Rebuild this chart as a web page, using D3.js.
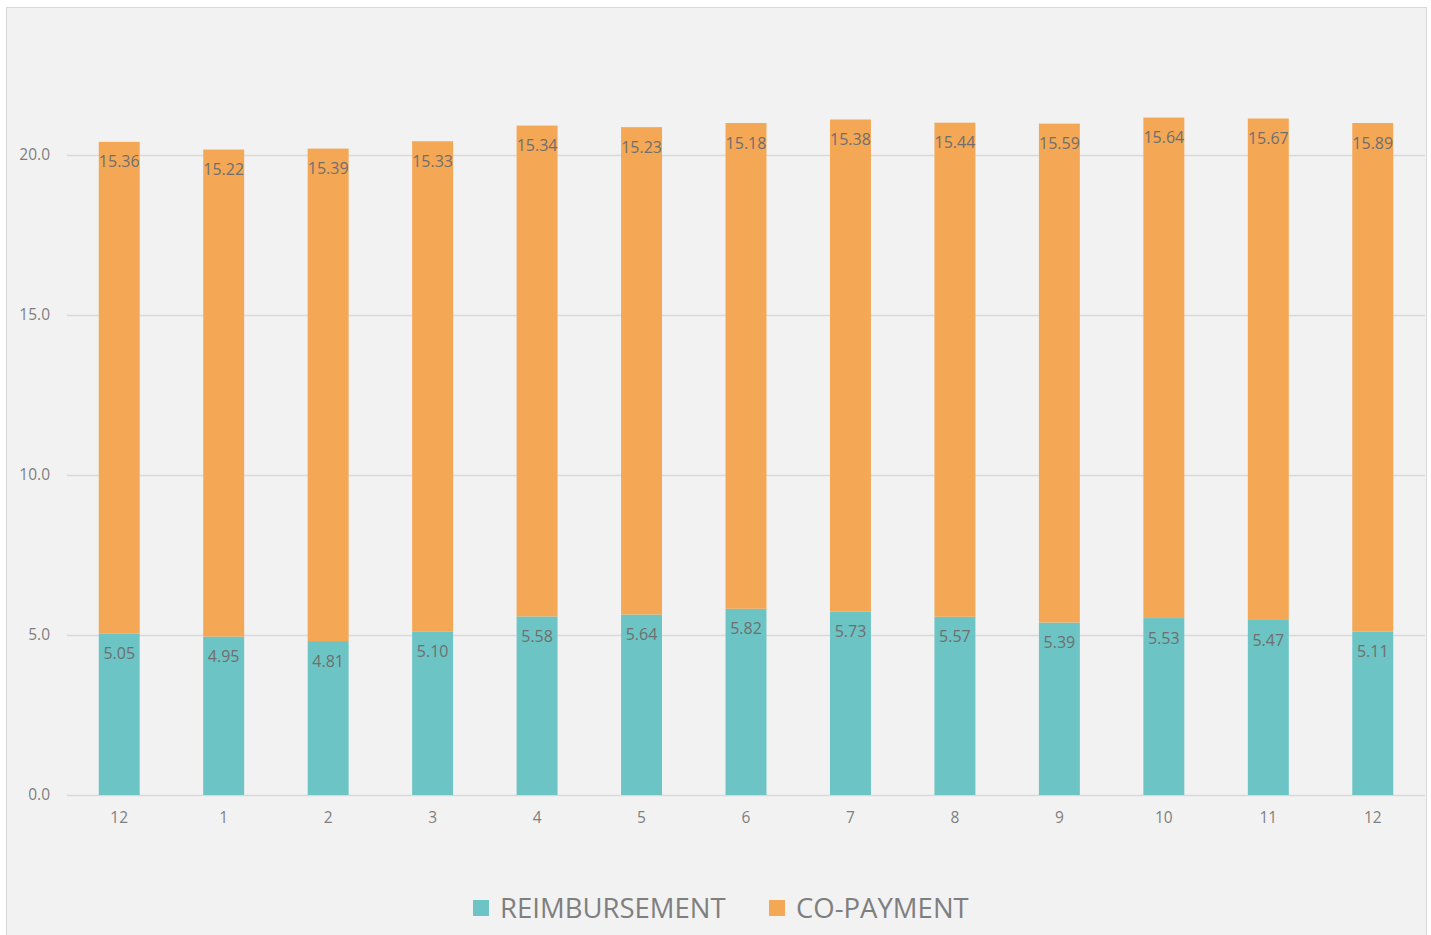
<!DOCTYPE html>
<html>
<head>
<meta charset="utf-8">
<script src="https://cdn.jsdelivr.net/npm/d3@7"></script>
<style>
  html, body { margin: 0; padding: 0; background: #ffffff; }
  svg { display: block; }
  text { font-family: "Open Sans", "Liberation Sans", sans-serif; }
</style>
</head>
<body>
<svg id="chart" width="1431" height="935"></svg>
<script>
// Monthly values, stacked: reimbursement at the bottom, co-payment on top
const months = ["12", "1", "2", "3", "4", "5", "6", "7", "8", "9", "10", "11", "12"];
const reimbursement = [5.05, 4.95, 4.81, 5.10, 5.58, 5.64, 5.82, 5.73, 5.57, 5.39, 5.53, 5.47, 5.11];
const coPayment = [15.36, 15.22, 15.39, 15.33, 15.34, 15.23, 15.18, 15.38, 15.44, 15.59, 15.64, 15.67, 15.89];
const yTicks = [0, 5, 10, 15, 20];
const seriesNames = ["REIMBURSEMENT", "CO-PAYMENT"];
const seriesColors = ["#6cc4c4", "#f4a755"];

const svg = d3.select("#chart");

// chart area frame
svg.append("rect")
  .attr("x", 6.5).attr("y", 7.5)
  .attr("width", 1420).attr("height", 930)
  .attr("fill", "#f2f2f2")
  .attr("stroke", "#d9d9d9").attr("stroke-width", 1);

const plot = { left: 67, right: 1425, top: 75, bottom: 795 };

const x = d3.scaleBand()
  .domain(d3.range(months.length))
  .range([plot.left, plot.right])
  .paddingInner(0.608)
  .paddingOuter(0.304);

const y = d3.scaleLinear()
  .domain([0, 22.5])
  .range([plot.bottom, plot.top]);

// gridlines
svg.append("g")
  .selectAll("line")
  .data(yTicks)
  .join("line")
  .attr("x1", plot.left).attr("x2", plot.right)
  .attr("y1", d => Math.round(y(d)) + 0.5)
  .attr("y2", d => Math.round(y(d)) + 0.5)
  .attr("stroke", "#d9d9d9").attr("stroke-width", 1.3);

// y axis labels
const yAxis = d3.axisLeft(y).tickValues(yTicks).tickFormat(d3.format(".1f")).tickSize(0).tickPadding(0);
const gy = svg.append("g").attr("transform", `translate(${plot.left - 17},0)`).call(yAxis);
gy.select(".domain").remove();
gy.selectAll("text")
  .attr("fill", "#7f7f7f").attr("font-size", 15.5)
  .attr("font-family", "'Open Sans', sans-serif");

// x axis labels
const xAxis = d3.axisBottom(x).tickFormat(i => months[i]).tickSize(0).tickPadding(0);
const gx = svg.append("g").attr("transform", `translate(0,${plot.bottom + 17})`).call(xAxis);
gx.select(".domain").remove();
gx.selectAll("text")
  .attr("fill", "#7f7f7f").attr("font-size", 15.5)
  .attr("font-family", "'Open Sans', sans-serif");

// stacked bars
const rows = months.map((m, i) => ({ i, r: reimbursement[i], c: coPayment[i] }));
const stack = d3.stack().keys(["r", "c"])(rows);

const layers = svg.append("g").selectAll("g")
  .data(stack)
  .join("g")
  .attr("fill", (d, k) => seriesColors[k]);

layers.selectAll("rect")
  .data(d => d)
  .join("rect")
  .attr("x", d => x(d.data.i))
  .attr("width", x.bandwidth())
  .attr("y", d => y(d[1]))
  .attr("height", d => y(d[0]) - y(d[1]));

// data labels, inside the top of each segment
layers.selectAll("text")
  .data((d, k) => d.map(v => ({ v, key: d.key })))
  .join("text")
  .attr("x", d => x(d.v.data.i) + x.bandwidth() / 2)
  .attr("y", d => y(d.v[1]) + 20)
  .attr("dy", "0.35em")
  .attr("text-anchor", "middle")
  .attr("fill", "#6f6f6f")
  .attr("font-size", 16)
  .text(d => d3.format(".2f")(d.v.data[d.key]));

// legend
const legend = svg.append("g").attr("transform", "translate(0,908)");
const legendX = [473, 769];
seriesNames.forEach((name, k) => {
  legend.append("rect")
    .attr("x", legendX[k]).attr("y", -8)
    .attr("width", 16).attr("height", 16)
    .attr("fill", seriesColors[k]);
  legend.append("text")
    .attr("x", legendX[k] + 27).attr("y", 0)
    .attr("dy", "0.35em")
    .attr("fill", "#7f7f7f")
    .attr("font-size", 27.5)
    .text(name);
});
</script>
</body>
</html>
